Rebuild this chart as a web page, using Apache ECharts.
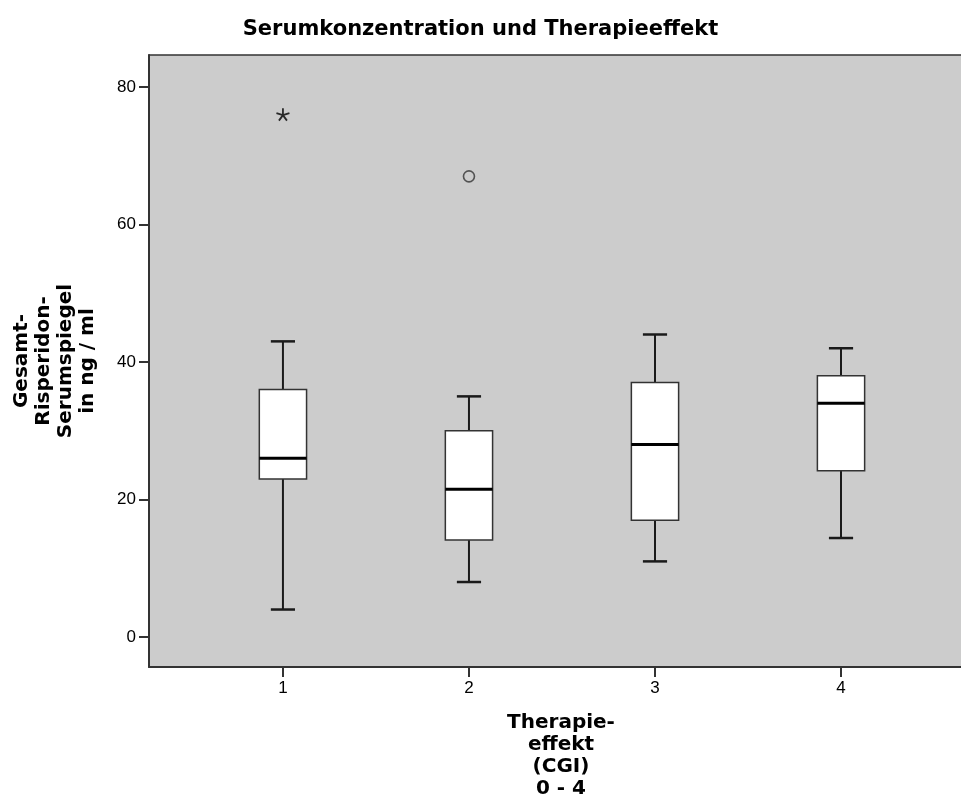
<!DOCTYPE html>
<html lang="de">
<head>
    <meta charset="UTF-8">
    <title>Serumkonzentration und Therapieeffekt</title>
    <script src="https://cdn.jsdelivr.net/npm/echarts@6/dist/echarts.min.js"></script>
    <style>
        html, body{
            margin: 0;
            padding: 0;
            background: #fff;
        }
        #main{
            width: 961px;
            height: 805px;
        }
    </style>
</head>
<body>
    <div id="main"></div>
<script>
    // Therapieeffekt (CGI) Gruppen
    var categories = [1, 2, 3, 4];
    // Boxplot-Kennwerte je Gruppe (ng/ml)
    var whiskerLow = [4, 8, 11, 14.4];
    var q1 = [23, 14.1, 17, 24.2];
    var medians = [26, 21.5, 28, 34];
    var q3 = [36, 30, 37, 38];
    var whiskerHigh = [43, 35, 44, 42];
    // Ausreisser: Stern = Extremwert, Kreis = Ausreisser
    var extremes = [[1, 76]];
    var outliers = [[2, 67]];
    var yTicks = [0, 20, 40, 60, 80];

    var boxData = categories.map(function (c, i) {
        return [c, whiskerLow[i], q1[i], medians[i], q3[i], whiskerHigh[i]];
    });

    function renderBox(params, api) {
        var x = api.value(0);
        var unit = api.size([1, 0])[0];
        var boxHalf = unit * 0.127;
        var capHalf = unit * 0.065;
        var pLow = api.coord([x, api.value(1)]);
        var pQ1 = api.coord([x, api.value(2)]);
        var pMed = api.coord([x, api.value(3)]);
        var pQ3 = api.coord([x, api.value(4)]);
        var pHigh = api.coord([x, api.value(5)]);
        var cx = pMed[0];
        var whisker = { stroke: '#1a1a1a', lineWidth: 2 };
        var cap = { stroke: '#1a1a1a', lineWidth: 2.5 };
        return {
            type: 'group',
            children: [
                { type: 'line', shape: { x1: cx, y1: pHigh[1], x2: cx, y2: pQ3[1] }, style: whisker },
                { type: 'line', shape: { x1: cx, y1: pQ1[1], x2: cx, y2: pLow[1] }, style: whisker },
                { type: 'line', shape: { x1: cx - capHalf, y1: pHigh[1], x2: cx + capHalf, y2: pHigh[1] }, style: cap },
                { type: 'line', shape: { x1: cx - capHalf, y1: pLow[1], x2: cx + capHalf, y2: pLow[1] }, style: cap },
                {
                    type: 'rect',
                    shape: { x: cx - boxHalf, y: pQ3[1], width: boxHalf * 2, height: pQ1[1] - pQ3[1] },
                    style: { fill: '#fff', stroke: '#333', lineWidth: 1.5 }
                },
                { type: 'line', shape: { x1: cx - boxHalf, y1: pMed[1], x2: cx + boxHalf, y2: pMed[1] }, style: { stroke: '#000', lineWidth: 3 } }
            ]
        };
    }

    var myChart = echarts.init(document.getElementById('main'));
    var option = {
        animation: false,
        backgroundColor: '#fff',
        title: {
            text: 'Serumkonzentration und Therapieeffekt',
            left: 'center',
            top: 14,
            textStyle: {
                fontFamily: 'DejaVu Sans',
                fontWeight: 'bold',
                fontSize: 21,
                color: '#000'
            }
        },
        grid: {
            left: 149,
            right: 0,
            top: 55,
            bottom: 138,
            show: true,
            backgroundColor: '#cccccc',
            borderWidth: 0
        },
        xAxis: [{
            type: 'value',
            min: 0.28,
            max: 4.645,
            name: 'Therapie-\neffekt\n(CGI)\n0 - 4',
            nameLocation: 'middle',
            nameGap: 45,
            nameTextStyle: {
                fontFamily: 'DejaVu Sans',
                fontWeight: 'bold',
                fontSize: 20,
                lineHeight: 22,
                padding: [0, 0, 0, 12],
                color: '#000'
            },
            splitLine: { show: false },
            axisLine: { show: true, onZero: false, lineStyle: { color: '#333', width: 2 } },
            axisTick: { show: true, length: 10, lineStyle: { color: '#333', width: 2 }, customValues: categories },
            axisLabel: {
                customValues: categories,
                margin: 13,
                fontFamily: 'Liberation Sans',
                fontSize: 17,
                color: '#000'
            }
        }, {
            // obere Rahmenlinie
            type: 'value',
            position: 'top',
            min: 0.28,
            max: 4.645,
            splitLine: { show: false },
            axisLine: { show: true, onZero: false, lineStyle: { color: '#333', width: 1.5 } },
            axisTick: { show: false },
            axisLabel: { show: false }
        }],
        yAxis: {
            type: 'value',
            min: -4.36,
            max: 84.65,
            name: 'Gesamt-\nRisperidon-\nSerumspiegel\nin ng / ml',
            nameLocation: 'middle',
            nameGap: 50,
            nameTextStyle: {
                fontFamily: 'DejaVu Sans',
                fontWeight: 'bold',
                fontSize: 20,
                lineHeight: 22,
                color: '#000'
            },
            splitLine: { show: false },
            axisLine: { show: true, onZero: false, lineStyle: { color: '#333', width: 2 } },
            axisTick: { show: true, length: 10, lineStyle: { color: '#333', width: 2 }, customValues: yTicks },
            axisLabel: {
                customValues: yTicks,
                margin: 13,
                fontFamily: 'Liberation Sans',
                fontSize: 17,
                color: '#000'
            }
        },
        series: [
            {
                name: 'Boxplot',
                type: 'custom',
                renderItem: renderBox,
                clip: false,
                encode: { x: 0, y: [1, 2, 3, 4, 5] },
                data: boxData
            },
            {
                name: 'Extremwerte',
                type: 'scatter',
                symbol: 'path://M0,0L0,-6M0,0L5.71,-1.85M0,0L3.53,4.85M0,0L-3.53,4.85M0,0L-5.71,-1.85',
                symbolSize: 13,
                symbolKeepAspect: true,
                itemStyle: { color: 'rgba(0,0,0,0)', borderColor: '#000', borderWidth: 1.8 },
                data: extremes
            },
            {
                name: 'Ausreisser',
                type: 'scatter',
                symbol: 'circle',
                symbolSize: 11,
                itemStyle: { color: 'rgba(0,0,0,0)', borderColor: '#333', borderWidth: 1.6 },
                data: outliers
            }
        ]
    };
    myChart.setOption(option);

    window.onresize = function(){
        myChart.resize();
    }
</script>
</body>
</html>
